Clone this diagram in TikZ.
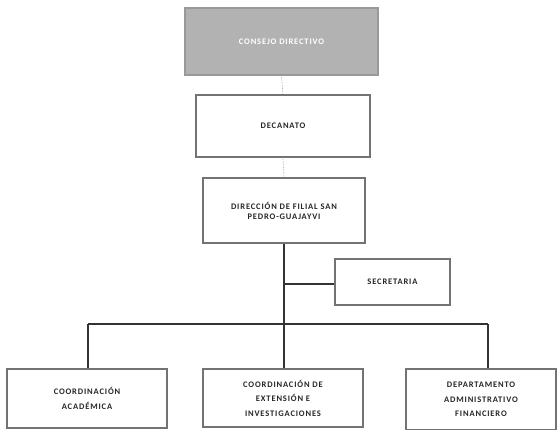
\documentclass[tikz,border=0pt]{standalone}
\usepackage{fontspec}
\setmainfont{Carlito}[LetterSpace=10]
\begin{document}
\begin{tikzpicture}[x=1pt,y=-1pt,
  box/.style={draw=black!55, line width=1.1pt, fill=white, inner sep=2pt,
    align=center, font=\fontsize{8.5}{10}\selectfont\bfseries, text=black!85},
  lowbox/.style={box, font=\fontsize{8.5}{14.5}\selectfont\bfseries},
  topbox/.style={box, fill=black!30, draw=black!40, text=white},
  link/.style={draw=black!80, line width=1.4pt},
  thinlink/.style={draw=black!45, line width=0.6pt, densely dotted}]
\useasboundingbox (0,0) rectangle (560,430);
\node[topbox, minimum width=193pt, minimum height=67pt] (cd) at (281.5,41.5) {CONSEJO DIRECTIVO};
\node[box, minimum width=174pt, minimum height=62pt] (dec) at (283,126) {DECANATO};
\node[box, minimum width=162pt, minimum height=65pt] (dir) at (284,210.5) {DIRECCIÓN DE FILIAL SAN\\PEDRO-GUAJAYVI};
\node[box, minimum width=115pt, minimum height=46pt] (sec) at (392.5,282) {SECRETARIA};
\node[lowbox, minimum width=160pt, minimum height=59pt] (ca) at (87,398.5) {COORDINACIÓN\\ACADÉMICA};
\node[lowbox, minimum width=160pt, minimum height=58pt] (cei) at (283,398) {COORDINACIÓN DE\\EXTENSIÓN E\\INVESTIGACIONES};
\node[lowbox, minimum width=150pt, minimum height=61pt] (daf) at (481,399.5) {DEPARTAMENTO\\ADMINISTRATIVO\\FINANCIERO};
\coordinate (j) at (284,324);
\coordinate (js) at (284,284);
\coordinate (jl) at (88,324);
\coordinate (jr) at (488,324);
\draw[thinlink] (cd.south) -- (dec.north);
\draw[thinlink] (dec.south) -- (dir.north);
\draw[link] (dir.south) -- (j);
\draw[link] (js) -- (js -| sec.west);
\draw[link] (jl) -- (jr);
\draw[link] (jl) -- (jl |- ca.north);
\draw[link] (j) -- (j |- cei.north);
\draw[link] (jr) -- (jr |- daf.north);
\end{tikzpicture}
\end{document}
